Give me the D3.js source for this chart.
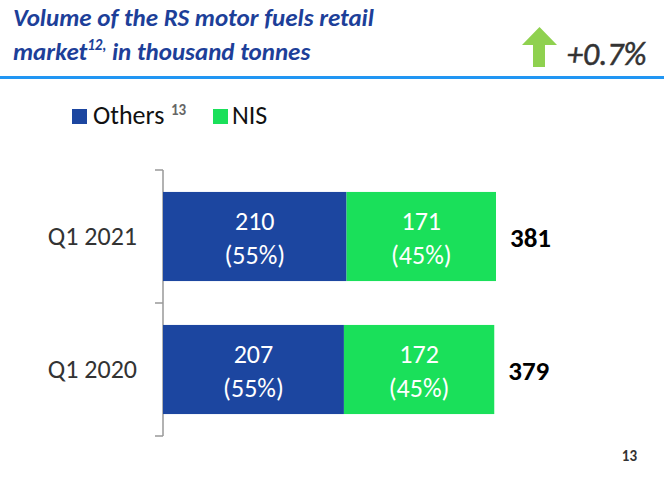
<!DOCTYPE html>
<html lang="en">
<head>
  <meta charset="UTF-8">
  <title>RS motor fuels retail market</title>
  <script src="https://d3js.org/d3.v7.min.js"></script>
  <style>
    body { margin: 0; background: #fff; }
    text { font-family: Calibri, Carlito, "Open Sans", "Noto Sans", sans-serif; }
  </style>
</head>
<body>
  <svg width="664" height="490"></svg>

  <script>
    let categories = ["Q1 2021", "Q1 2020"];
    let seriesNames = ["Others", "NIS"];
    let others = [210, 207];
    let nis = [171, 172];
    let othersPct = ["(55%)", "(55%)"];
    let nisPct = ["(45%)", "(45%)"];
    let totals = [381, 379];

    let colors = { Others: "#1c46a0", NIS: "#1ae05a" };

    let svg = d3.select("svg");

    // header
    svg.append("text")
      .attr("x", 13).attr("y", 26)
      .attr("fill", "#1d3f99")
      .attr("font-size", 25).attr("font-weight", "bold").attr("font-style", "italic")
      .text("Volume of the RS motor fuels retail");
    let t2 = svg.append("text")
      .attr("x", 13).attr("y", 60)
      .attr("fill", "#1d3f99")
      .attr("font-size", 25).attr("font-weight", "bold").attr("font-style", "italic");
    t2.append("tspan").text("market");
    t2.append("tspan").attr("font-size", 15).attr("dy", -10).text("12,");
    t2.append("tspan").attr("dy", 10).text(" in thousand tonnes");

    svg.append("rect")
      .attr("x", 0).attr("y", 76).attr("width", 664).attr("height", 3)
      .attr("fill", "#2196f3");

    // green arrow
    svg.append("path")
      .attr("d", "M539.5,27 L557,45 L545,45 L545,67 L533,67 L533,45 L522,45 Z")
      .attr("fill", "#8fd14f");
    svg.append("text")
      .attr("x", 567).attr("y", 65)
      .attr("fill", "#333")
      .attr("font-size", 32).attr("font-style", "italic")
      .attr("stroke", "#333").attr("stroke-width", 0.5)
      .text("+0.7%");

    // legend
    let lg = svg.append("g");
    lg.append("rect").attr("x", 72).attr("y", 109).attr("width", 15).attr("height", 15).attr("fill", colors.Others);
    lg.append("text").attr("x", 93).attr("y", 124).attr("font-size", 26).attr("fill", "#111").text(seriesNames[0]);
    lg.append("text").attr("x", 171).attr("y", 115).attr("font-size", 15).attr("font-weight", "bold").attr("fill", "#666").text("13");
    lg.append("rect").attr("x", 213).attr("y", 109).attr("width", 15).attr("height", 15).attr("fill", colors.NIS);
    lg.append("text").attr("x", 232).attr("y", 124).attr("font-size", 26).attr("fill", "#111").text(seriesNames[1]);

    // chart
    let x0 = 163;
    let x = d3.scaleLinear().domain([0, 381]).range([x0, 496]);
    let y = d3.scaleBand().domain(categories).range([170, 436]).paddingInner(0.33).paddingOuter(0.165);

    let yAxis = svg.append("g")
      .attr("transform", `translate(${x0},0)`)
      .call(d3.axisLeft(y).tickSize(0).tickPadding(26).tickSizeOuter(0));
    yAxis.select(".domain").remove();
    yAxis.selectAll("text").attr("font-size", 26).attr("fill", "#333").attr("dy", 8)
      .style("font-family", "Calibri, Carlito, 'Open Sans', sans-serif");

    // bracket style axis with tick marks at category boundaries
    svg.append("line").attr("x1", x0).attr("x2", x0).attr("y1", 170).attr("y2", 436)
      .attr("stroke", "#999").attr("stroke-width", 1.5);
    let step = y.step();
    [0, 1, 2].forEach(i => {
      svg.append("line")
        .attr("x1", x0 - 8).attr("x2", x0)
        .attr("y1", 170 + i * step).attr("y2", 170 + i * step)
        .attr("stroke", "#999").attr("stroke-width", 1.5);
    });

    let rows = categories.map((c, i) => ({ c, o: others[i], n: nis[i], op: othersPct[i], np: nisPct[i], t: totals[i] }));

    let g = svg.selectAll(".row").data(rows).enter().append("g");

    g.append("rect")
      .attr("x", x(0)).attr("y", d => y(d.c))
      .attr("width", d => x(d.o) - x(0)).attr("height", y.bandwidth())
      .attr("fill", colors.Others);
    g.append("rect")
      .attr("x", d => x(d.o)).attr("y", d => y(d.c))
      .attr("width", d => x(d.o + d.n) - x(d.o)).attr("height", y.bandwidth())
      .attr("fill", colors.NIS);

    function barLabel(sel, cx, v, p) {
      sel.append("text")
        .attr("x", cx).attr("y", d => y(d.c) + y.bandwidth() / 2 - 7)
        .attr("text-anchor", "middle").attr("font-size", 26).attr("fill", "#fff")
        .text(v);
      sel.append("text")
        .attr("x", cx).attr("y", d => y(d.c) + y.bandwidth() / 2 + 27)
        .attr("text-anchor", "middle").attr("font-size", 26).attr("fill", "#fff")
        .text(p);
    }
    barLabel(g, d => (x(0) + x(d.o)) / 2, d => d.o, d => d.op);
    barLabel(g, d => (x(d.o) + x(d.o + d.n)) / 2, d => d.n, d => d.np);

    g.append("text")
      .attr("x", d => x(d.t) + 14).attr("y", d => y(d.c) + y.bandwidth() / 2 + 10)
      .attr("font-size", 27).attr("font-weight", "bold").attr("fill", "#000")
      .text(d => d.t);

    // page number
    svg.append("text")
      .attr("x", 637).attr("y", 461).attr("text-anchor", "end")
      .attr("font-size", 15).attr("font-weight", "bold").attr("fill", "#333")
      .text("13");
  </script>
</body>
</html>
